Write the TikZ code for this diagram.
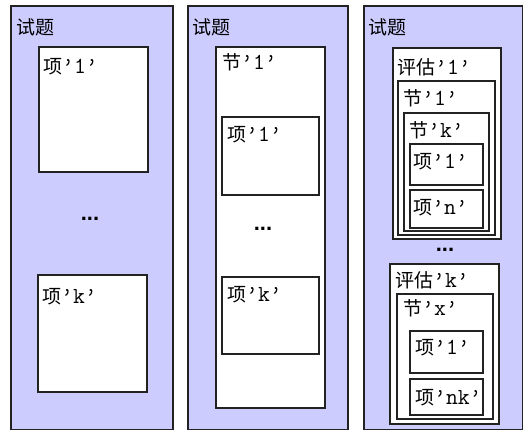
\documentclass[tikz,border=0pt]{standalone}
\usepackage{fontspec}
\setmainfont{Latin Modern Mono}
\newfontfamily\cjk{Noto Sans CJK SC}
\newfontfamily\dotfont{Liberation Sans}
\newcommand\zh[1]{{\cjk\fontsize{19}{22}\selectfont #1}}
\definecolor{lavender}{HTML}{CCCCFF}
\definecolor{rim}{HTML}{222222}

\begin{document}
\begin{tikzpicture}[x=1pt,y=-1pt]
		\tikzset{panel/.style = {draw=rim, line width=1.6pt, fill=lavender, anchor=north west, inner sep=0pt}}
		\tikzset{box/.style = {draw=rim, line width=1.6pt, fill=white, anchor=north west, inner sep=0pt}}
		\tikzset{lbl/.style = {anchor=west, inner sep=0pt, font=\fontsize{23}{26}\selectfont}}
		\tikzset{dots/.style = {inner sep=0pt, font=\dotfont\bfseries\fontsize{22}{24}\selectfont}}
		
		\useasboundingbox[fill=white] (0,0) rectangle (523,430);
		
		% first column
		\node[panel, minimum width=162pt, minimum height=424pt] (p1) at ( 10,   5) {};
		\node[box,   minimum width=109pt, minimum height=125pt] (p1i1) at ( 38,  46) {};
		\node[box,   minimum width=109pt, minimum height=117pt] (p1ik) at ( 37, 274) {};
		\node[lbl] (p1t)  at ( 16,  27) {\zh{试题}};
		\node[lbl] (p1i1t) at ( 43,  67) {\zh{项}’1’};
		\node[lbl] (p1ikt) at ( 42, 297) {\zh{项}’k’};
		\node[dots] (p1d) at ( 90, 219) {...};
		
		% second column
		\node[panel, minimum width=160pt, minimum height=424pt] (p2) at (187,   5) {};
		\node[box,   minimum width=109pt, minimum height=361pt] (p2s1) at (215,  46) {};
		\node[box,   minimum width= 97pt, minimum height= 78pt] (p2i1) at (221, 116) {};
		\node[box,   minimum width= 97pt, minimum height= 77pt] (p2ik) at (221, 276) {};
		\node[lbl] (p2t)   at (192,  27) {\zh{试题}};
		\node[lbl] (p2s1t) at (222,  62) {\zh{节}’1’};
		\node[lbl] (p2i1t) at (227, 135) {\zh{项}’1’};
		\node[lbl] (p2ikt) at (227, 295) {\zh{项}’k’};
		\node[dots] (p2d) at (263, 229) {...};
		
		% third column
		\node[panel, minimum width=159pt, minimum height=424pt] (p3) at (363,   5) {};
		\node[box,   minimum width=108pt, minimum height=191pt] (p3e1) at (392,  47) {};
		\node[box,   minimum width= 97pt, minimum height=154pt] (p3s1) at (397,  80) {};
		\node[box,   minimum width= 85pt, minimum height=118pt] (p3sk) at (403, 112) {};
		\node[box,   minimum width= 73pt, minimum height= 41pt] (p3i1) at (409, 143) {};
		\node[box,   minimum width= 73pt, minimum height= 38pt] (p3in) at (409, 189) {};
		\node[box,   minimum width=109pt, minimum height=160pt] (p3ek) at (389, 263) {};
		\node[box,   minimum width= 96pt, minimum height=125pt] (p3sx) at (396, 293) {};
		\node[box,   minimum width= 73pt, minimum height= 42pt] (p3j1) at (409, 330) {};
		\node[box,   minimum width= 73pt, minimum height= 36pt] (p3jn) at (409, 378) {};
		\node[lbl] (p3t)   at (368,  27) {\zh{试题}};
		\node[lbl] (p3e1t) at (397,  67) {\zh{评估}’1’};
		\node[lbl] (p3s1t) at (403,  98) {\zh{节}’1’};
		\node[lbl] (p3skt) at (409, 130) {\zh{节}’k’};
		\node[lbl] (p3i1t) at (413, 162) {\zh{项}’1’};
		\node[lbl] (p3int) at (413, 208) {\zh{项}’n’};
		\node[dots] (p3d) at (445, 250) {...};
		\node[lbl] (p3ekt) at (395, 280) {\zh{评估}’k’};
		\node[lbl] (p3sxt) at (403, 308) {\zh{节}’x’};
		\node[lbl] (p3j1t) at (415, 348) {\zh{项}’1’};
		\node[lbl] (p3jnt) at (415, 398) {\zh{项}’nk’};
\end{tikzpicture}
\end{document}
